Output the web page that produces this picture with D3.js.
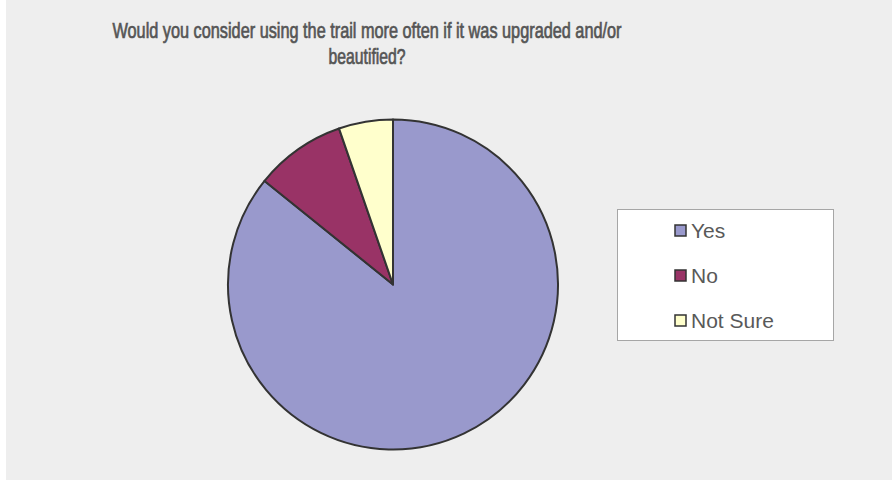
<!DOCTYPE html>
<html>
<head>
<meta charset="utf-8">
<script src="https://cdn.jsdelivr.net/npm/d3@7"></script>
<style>
  html, body { margin: 0; padding: 0; background: #ffffff; }
  svg { display: block; }
</style>
</head>
<body>
<svg id="chart" width="892" height="480"></svg>
<script>
// Survey answers (share of respondents, %)
const categories = ["Yes", "No", "Not Sure"];
const values = [85.8, 8.9, 5.3];
const colors = ["#9999cc", "#993366", "#ffffcc"];
const titleLines = [
  "Would you consider using the trail more often if it was upgraded and/or",
  "beautified?"
];
const titleWidths = [509, 77];

const width = 892, height = 480;
const svg = d3.select("#chart");

// chart area background
svg.append("rect")
  .attr("x", 6).attr("y", 0)
  .attr("width", width - 6).attr("height", height)
  .attr("fill", "#eeeeee");

// title (condensed to fit the header width)
const title = svg.append("text")
  .attr("text-anchor", "middle")
  .attr("font-family", "'Liberation Sans', Arial, sans-serif")
  .attr("font-size", 21.5)
  .attr("fill", "#555555")
  .attr("stroke", "#555555")
  .attr("stroke-width", 0.7);
titleLines.forEach((line, i) => {
  title.append("tspan")
    .attr("x", 367)
    .attr("y", 37.5 + i * 26)
    .attr("textLength", titleWidths[i])
    .attr("lengthAdjust", "spacingAndGlyphs")
    .text(line);
});

// pie
const cx = 393, cy = 284.5, r = 165;
const pie = d3.pie().sort(null).value(d => d)(values);
const arc = d3.arc().innerRadius(0).outerRadius(r);
const color = d3.scaleOrdinal().domain(categories).range(colors);

svg.append("g")
  .attr("transform", `translate(${cx},${cy})`)
  .selectAll("path")
  .data(pie)
  .join("path")
  .attr("d", arc)
  .attr("fill", (d, i) => color(categories[i]))
  .attr("stroke", "#333333")
  .attr("stroke-width", 2)
  .attr("stroke-linejoin", "round");

// legend
const legend = svg.append("g");
legend.append("rect")
  .attr("x", 617.5).attr("y", 209.5)
  .attr("width", 216).attr("height", 131)
  .attr("fill", "#ffffff")
  .attr("stroke", "#a6a6a6")
  .attr("stroke-width", 1);

const rowY = d3.scalePoint().domain(categories).range([230.5, 320.5]);
const items = legend.selectAll("g.item")
  .data(categories)
  .join("g")
  .attr("class", "item")
  .attr("transform", d => `translate(0,${rowY(d)})`);

items.append("rect")
  .attr("x", 675).attr("y", -5.5)
  .attr("width", 11).attr("height", 11)
  .attr("fill", d => color(d))
  .attr("stroke", "#333333")
  .attr("stroke-width", 1.5);

items.append("text")
  .attr("x", 691)
  .attr("y", 7.8)
  .attr("font-family", "'Liberation Sans', Arial, sans-serif")
  .attr("font-size", 21)
  .attr("fill", "#595959")
  .text(d => d);
</script>
</body>
</html>
